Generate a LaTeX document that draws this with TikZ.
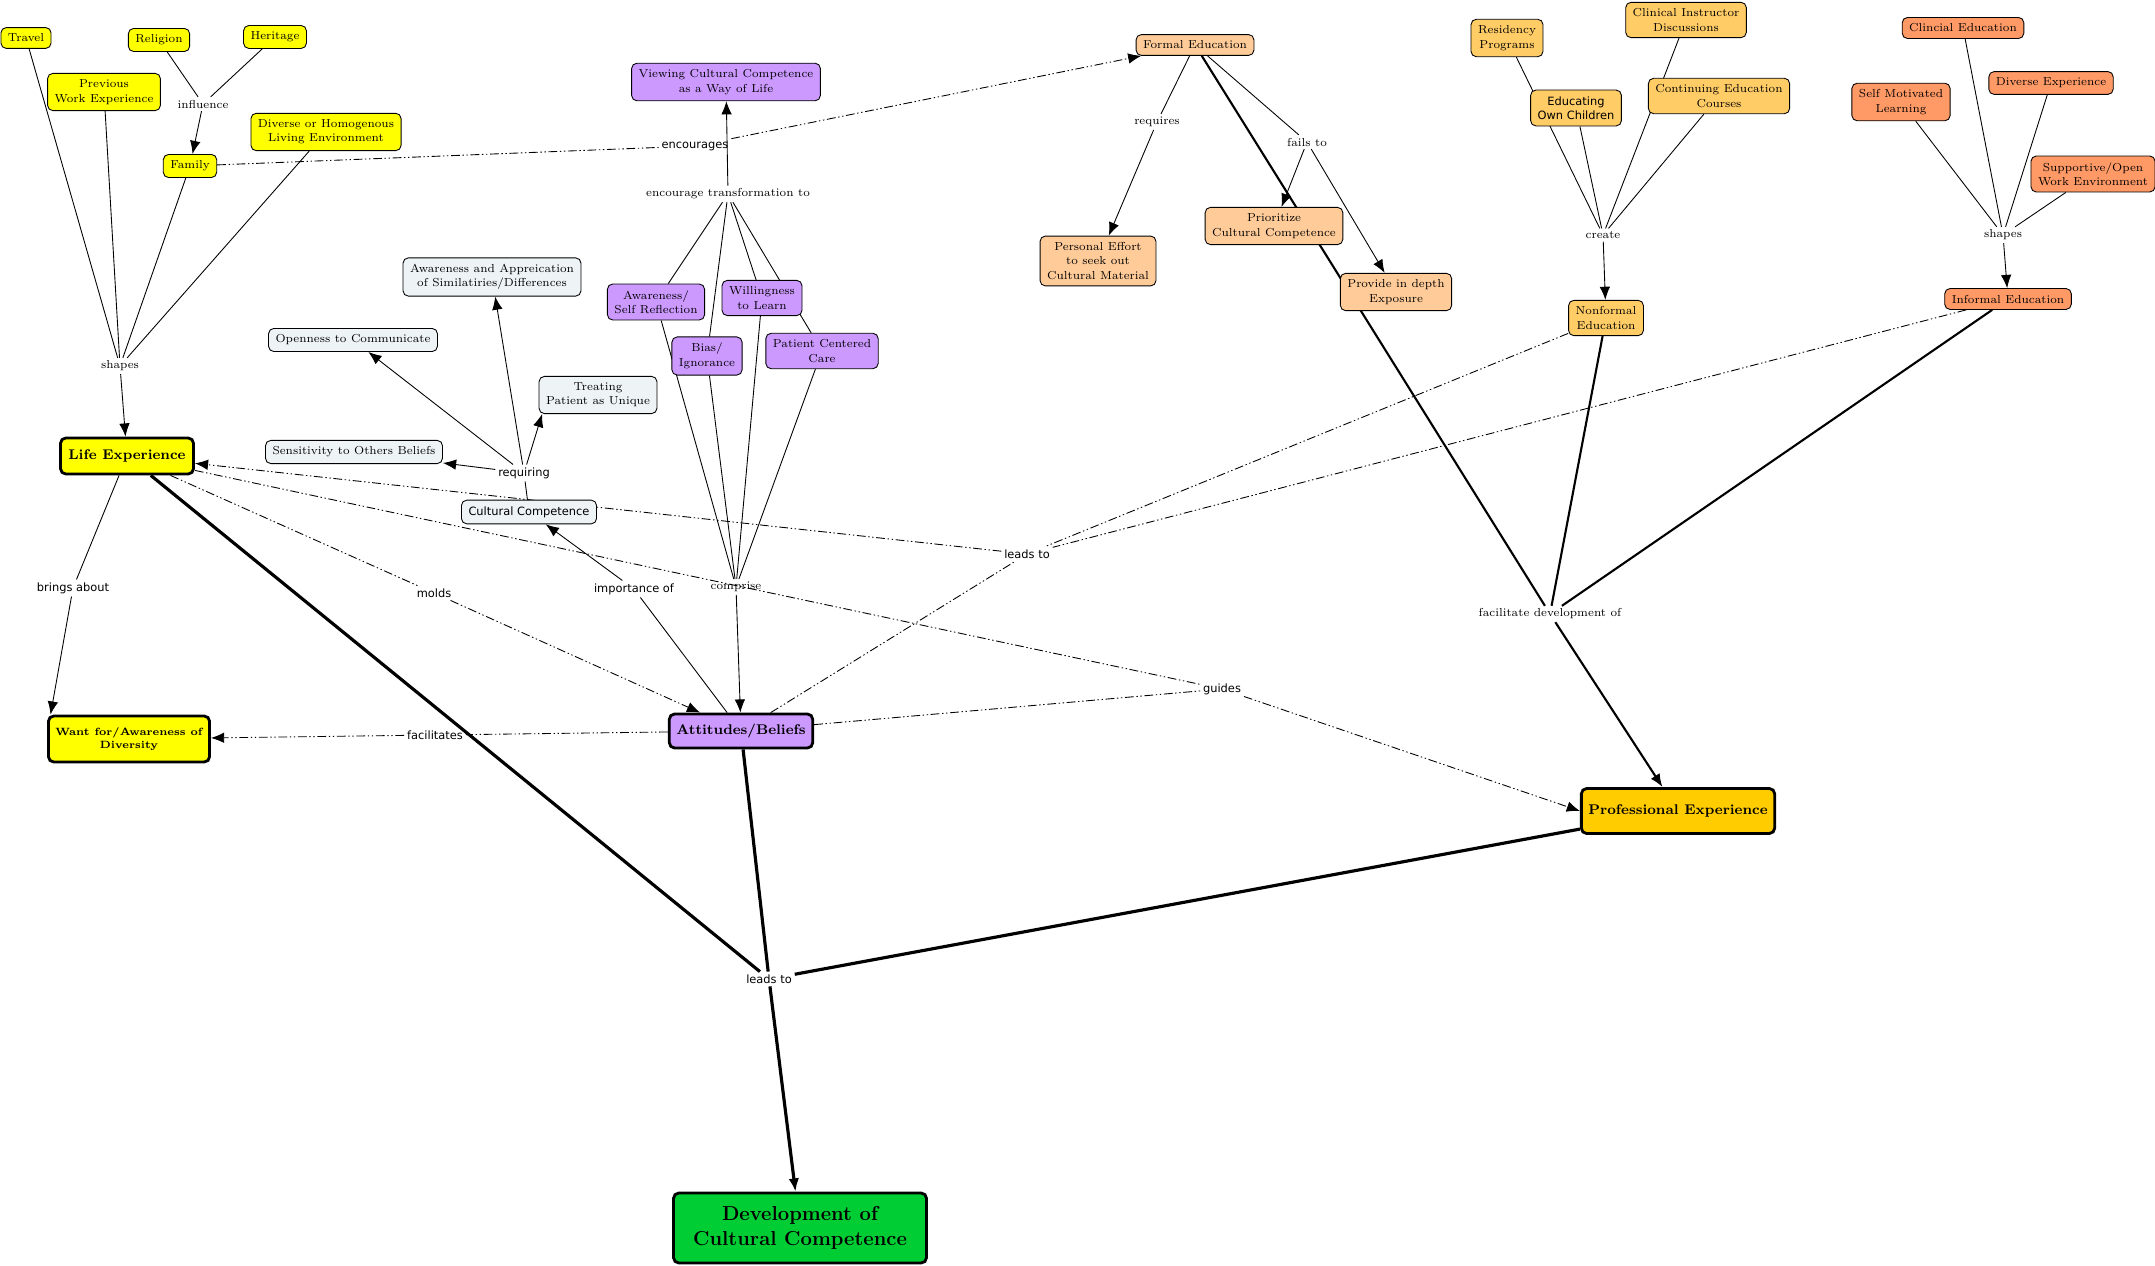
\documentclass[tikz,border=0pt]{standalone}
\usepackage{fontspec}
\newfontfamily\vsans{DejaVu Sans}
\usetikzlibrary{arrows.meta,backgrounds}
\definecolor{cyel}{RGB}{255,255,0}
\definecolor{cgray}{RGB}{238,243,245}
\definecolor{cpurp}{RGB}{204,153,255}
\definecolor{cpeach}{RGB}{255,204,153}
\definecolor{capri}{RGB}{255,204,102}
\definecolor{csalm}{RGB}{255,153,102}
\definecolor{cgold}{RGB}{255,204,0}
\definecolor{cgreen}{RGB}{0,204,51}

\begin{document}
\begin{tikzpicture}[x=0.02cm,y=-0.02cm,>={Latex[length=7.5pt,width=6pt]},
  every node/.style={font=\fontsize{6.6}{8.2}\selectfont},
  box/.style={draw,rounded corners=3pt,align=center,inner xsep=4pt,inner ysep=3.6pt,line width=0.5pt},
  main/.style={box,line width=1.6pt,font=\fontsize{8}{9.6}\selectfont\bfseries},
  lnk/.style={inner sep=1.5pt},
  slnk/.style={inner sep=1.5pt,font=\fontsize{6.5}{7.8}\selectfont\vsans},
  dd/.style={dash pattern=on 5pt off 1.5pt on 0.8pt off 1.5pt on 0.8pt off 1.5pt,line width=0.5pt},
  thn/.style={line width=0.5pt},
  fat/.style={line width=1.2pt},
  fatter/.style={line width=1.8pt}]
\useasboundingbox (0,0) rectangle (2155,1266);

% life experience side
\node[box,fill=cyel] (travel) at (26,38) {Travel};
\node[box,fill=cyel] (religion) at (159,40) {Religion};
\node[box,fill=cyel] (heritage) at (275,37) {Heritage};
\node[box,fill=cyel] (prevwork) at (104,92) {Previous\\Work Experience};
\node[box,fill=cyel] (family) at (190,166) {Family};
\node[box,fill=cyel] (livenv) at (326,132) {Diverse or Homogenous\\Living Environment};
\node[main,fill=cyel,minimum width=2.66cm,minimum height=0.72cm] (lifeexp) at (127,456) {Life Experience};
\node[main,fill=cyel,minimum width=2.98cm,minimum height=0.92cm,font=\fontsize{6}{7.6}\selectfont\bfseries] (wantfor) at (129,739) {Want for/Awareness of\\Diversity};

% cultural competence
\node[box,fill=cgray] (openn) at (353,340) {Openness to Communicate};
\node[box,fill=cgray] (apprec) at (492,277) {Awareness and Appreication\\of Similatiries/Differences};
\node[box,fill=cgray] (treat) at (598,395) {Treating\\Patient as Unique};
\node[box,fill=cgray] (sensit) at (354,452) {Sensitivity to Others Beliefs};
\node[box,fill=cgray,font=\fontsize{6.5}{7.8}\selectfont\vsans] (culcomp) at (529,512) {Cultural Competence};

% attitudes
\node[box,fill=cpurp] (viewing) at (726,82) {Viewing Cultural Competence\\as a Way of Life};
\node[box,fill=cpurp] (selfrefl) at (656,302) {Awareness/\\Self Reflection};
\node[box,fill=cpurp] (willing) at (762,298) {Willingness\\to Learn};
\node[box,fill=cpurp] (bias) at (707,356) {Bias/\\Ignorance};
\node[box,fill=cpurp] (patcare) at (822,351) {Patient Centered\\Care};
\node[main,fill=cpurp,minimum width=2.84cm,minimum height=0.68cm] (attit) at (741,731) {Attitudes/Beliefs};

% education
\node[box,fill=cpeach] (formaledu) at (1195,45) {Formal Education};
\node[box,fill=cpeach] (effort) at (1098,261) {Personal Effort\\to seek out\\Cultural Material};
\node[box,fill=cpeach] (priorit) at (1274,226) {Prioritize\\Cultural Competence};
\node[box,fill=cpeach] (indepth) at (1396,292) {Provide in depth\\Exposure};
\node[box,fill=capri] (residency) at (1507,38) {Residency\\Programs};
\node[box,fill=capri] (clininstr) at (1686,20) {Clinical Instructor\\Discussions};
\node[box,fill=capri,font=\fontsize{6.5}{8.2}\selectfont\vsans] (ownchild) at (1576,108) {Educating\\Own Children};
\node[box,fill=capri] (contedu) at (1719,96) {Continuing Education\\Courses};
\node[box,fill=capri] (nonformal) at (1606,318) {Nonformal\\Education};
\node[box,fill=csalm] (clincedu) at (1963,28) {Clincial Education};
\node[box,fill=csalm] (divexp) at (2051,83) {Diverse Experience};
\node[box,fill=csalm] (selfmot) at (1901,102) {Self Motivated\\Learning};
\node[box,fill=csalm] (supportive) at (2093,174) {Supportive/Open\\Work Environment};
\node[box,fill=csalm] (informal) at (2008,299) {Informal Education};
\node[main,fill=cgold,minimum width=3.86cm,minimum height=0.9cm] (profexp) at (1678,811) {Professional Experience};
\node[main,fill=cgreen,minimum width=5.06cm,minimum height=1.4cm,font=\fontsize{11.5}{14}\selectfont\bfseries] (devcc) at (800,1228) {Development of\\Cultural Competence};

% linking phrases
\node[lnk] (infl) at (203,104) {influence};
\node[lnk] (shL) at (120,366) {shapes};
\node[slnk] (brings) at (73,588) {brings about};
\node[slnk] (molds) at (434,593) {molds};
\node[slnk] (import) at (634,589) {importance of};
\node[lnk] (compr) at (736,587) {comprise};
\node[slnk] (facil) at (435,735) {facilitates};
\node[slnk] (reqng) at (524,473) {requiring};
\node[slnk] (encour) at (695,146) {encourages};
\node[lnk] (enctr) at (728,194) {encourage transformation to};
\node[slnk] (leadsA) at (1027,554) {leads to};
\node[slnk] (guides) at (1222,689) {guides};
\node[lnk] (requires) at (1157,122) {requires};
\node[lnk] (failsto) at (1307,142) {fails to};
\node[lnk] (create) at (1603,235) {create};
\node[lnk] (shR) at (2003,235) {shapes};
\node[lnk] (facdev) at (1550,614) {facilitate development of};
\node[slnk] (leadsB) at (769,979) {leads to};

\begin{scope}[on background layer]
\foreach \a in {travel,prevwork,family,livenv} \draw[thn] (\a)--(shL);
\draw[thn,->] (shL)--(lifeexp);
\foreach \a in {religion,heritage} \draw[thn] (\a)--(infl);
\draw[thn,->] (infl)--(family);
\draw[dd] (family)--(encour); \draw[dd,->] (encour)--(formaledu);
\foreach \a in {selfrefl,bias,willing,patcare} {\draw[thn] (\a)--(enctr); \draw[thn] (\a)--(compr);}
\draw[thn,->] (enctr)--(viewing);
\draw[thn,->] (compr)--(attit);
\draw[thn] (attit)--(import); \draw[thn,->] (import)--(culcomp);
\draw[thn] (culcomp)--(reqng);
\foreach \b in {sensit,openn,apprec} \draw[thn,->] (reqng)--(\b);
\draw[thn,->] (reqng)--([xshift=2pt]treat.south west);
\draw[thn] (lifeexp)--(brings); \draw[thn,->] (brings)--([xshift=2pt]wantfor.north west);
\draw[dd] (lifeexp)--(molds); \draw[dd,->] (molds)--(attit);
\draw[dd] (attit)--(facil); \draw[dd,->] (facil)--(wantfor);
\draw[dd] (attit)--(guides); \draw[dd] (lifeexp)--(guides); \draw[dd,->] (guides)--(profexp.west);
\foreach \a in {nonformal,informal,attit} \draw[dd] (\a)--(leadsA);
\draw[dd,->] (leadsA)--(lifeexp);
\draw[thn] (formaledu)--(requires); \draw[thn,->] (requires)--(effort);
\draw[thn] (formaledu)--(failsto);
\draw[thn,->] (failsto)--(priorit); \draw[thn,->] (failsto)--(indepth);
\foreach \a in {residency,clininstr,ownchild,contedu} \draw[thn] (\a)--(create);
\draw[thn,->] (create)--(nonformal);
\foreach \a in {selfmot,clincedu,divexp,supportive} \draw[thn] (\a)--(shR);
\draw[thn,->] (shR)--(informal);
\foreach \a in {formaledu,nonformal,informal} \draw[fat] (\a)--(facdev);
\draw[fat,->] (facdev)--(profexp);
\foreach \a in {lifeexp,attit,profexp} \draw[fatter] (\a)--(leadsB);
\draw[fatter,->] (leadsB)--(devcc);
\end{scope}
\end{tikzpicture}
\end{document}
